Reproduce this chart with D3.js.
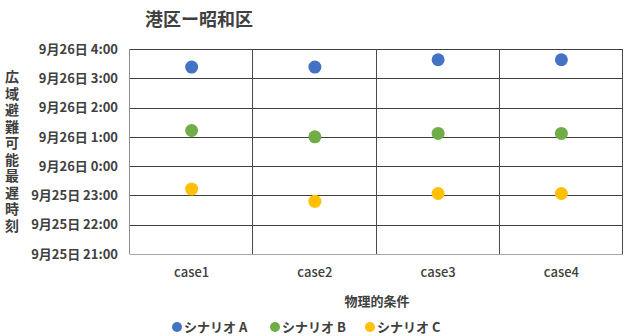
<!DOCTYPE html>
<html>
<head>
<meta charset="utf-8">
<script src="https://cdn.jsdelivr.net/npm/d3@7"></script>
<style>
  html, body { margin: 0; padding: 0; background: #fff; }
  svg { display: block; }
  text { font-family: "Noto Sans CJK JP", "Noto Sans", sans-serif; fill: #404040; }
</style>
</head>
<body>
<svg id="chart" width="624" height="336"></svg>
<script>
// 物理的条件ごとの広域避難可能最遅時刻
const categories = ["case1", "case2", "case3", "case4"];
const seriesNames = ["シナリオ A", "シナリオ B", "シナリオ C"];
const seriesColors = ["#4472C4", "#70AD47", "#FFC000"];
const scenarioA = ["2024-09-26T03:23", "2024-09-26T03:23", "2024-09-26T03:38", "2024-09-26T03:38"];
const scenarioB = ["2024-09-26T01:13", "2024-09-26T01:00", "2024-09-26T01:07", "2024-09-26T01:07"];
const scenarioC = ["2024-09-25T23:13", "2024-09-25T22:48", "2024-09-25T23:04", "2024-09-25T23:04"];
const yDomain = ["2024-09-25T21:00", "2024-09-26T04:00"];
const titleText = "港区ー昭和区";
const xTitle = "物理的条件";
const yTitle = "広域避難可能最遅時刻";

const parse = d3.isoParse;
const series = [scenarioA, scenarioB, scenarioC].map((vals, i) => ({
  name: seriesNames[i],
  color: seriesColors[i],
  values: vals.map((v, j) => ({ cat: categories[j], t: parse(v) }))
}));

const svg = d3.select("#chart");
const m = { left: 130, right: 623, top: 49, bottom: 254 };

const x = d3.scaleBand().domain(categories).range([m.left, m.right]);
const y = d3.scaleTime().domain(yDomain.map(parse)).range([m.bottom, m.top]);
const yTicks = d3.timeHour.range(y.domain()[0], d3.timeHour.offset(y.domain()[1], 1));
const fmt = d3.timeFormat("%-m月%-d日 %-H:%M");

// 横グリッド線
svg.append("g")
  .selectAll("line").data(yTicks).join("line")
  .attr("x1", m.left).attr("x2", m.right)
  .attr("y1", d => Math.round(y(d)) + 0.5).attr("y2", d => Math.round(y(d)) + 0.5)
  .attr("stroke", (d, i) => i === 0 ? "#a6a6a6" : "#3f3f3f").attr("stroke-width", 1);

// 縦の区切り線
const xEdges = categories.map(c => x(c)).concat([m.right]);
svg.append("g")
  .selectAll("line").data(xEdges).join("line")
  .attr("x1", d => Math.round(d) - 0.5).attr("x2", d => Math.round(d) - 0.5)
  .attr("y1", m.top).attr("y2", m.bottom)
  .attr("stroke", (d, i) => i === 0 ? "#8c8c8c" : "#4a4a4a").attr("stroke-width", 1);

// Y軸目盛
const yAxis = d3.axisLeft(y).tickValues(yTicks).tickFormat(fmt).tickSize(0).tickPadding(12);
const gy = svg.append("g").attr("transform", `translate(${m.left},0)`).call(yAxis);
gy.select(".domain").remove();
gy.selectAll("text")
  .attr("x", -12)
  .style("font-size", "13px").style("font-weight", "bold").attr("fill", "#404040");

// X軸目盛
const xAxis = d3.axisBottom(x).tickSize(0).tickPadding(14);
const gx = svg.append("g").attr("transform", `translate(0,${m.bottom})`).call(xAxis);
gx.select(".domain").remove();
gx.selectAll("text").style("font-size", "13px").style("font-weight", "500").attr("fill", "#404040");

// 点
series.forEach(s => {
  svg.append("g")
    .selectAll("circle").data(s.values).join("circle")
    .attr("cx", d => x(d.cat) + x.bandwidth() / 2)
    .attr("cy", d => y(d.t))
    .attr("r", 6.5)
    .attr("fill", s.color);
});

// タイトル
svg.append("text")
  .attr("x", 199).attr("y", 26)
  .attr("text-anchor", "middle")
  .style("font-size", "18px").style("font-weight", "bold")
  .attr("fill", "#404040")
  .text(titleText);

// X軸タイトル
svg.append("text")
  .attr("x", 377).attr("y", 306)
  .attr("text-anchor", "middle")
  .style("font-size", "13px").style("font-weight", "bold")
  .text(xTitle);

// Y軸タイトル(縦書き)
svg.append("text")
  .attr("x", 12).attr("y", 70)
  .style("writing-mode", "vertical-rl")
  .style("font-size", "14px").style("font-weight", "bold")
  .style("letter-spacing", "2.5px")
  .text(yTitle);

// 凡例
const legendX = [177, 275, 370];
const lg = svg.append("g").selectAll("g").data(series).join("g")
  .attr("transform", (d, i) => `translate(${legendX[i]},327)`);
lg.append("circle").attr("cx", 0).attr("cy", 0).attr("r", 5).attr("fill", d => d.color);
lg.append("text").attr("x", 7).attr("y", 5)
  .style("font-size", "13px").style("font-weight", "bold")
  .text(d => d.name);
</script>
</body>
</html>
